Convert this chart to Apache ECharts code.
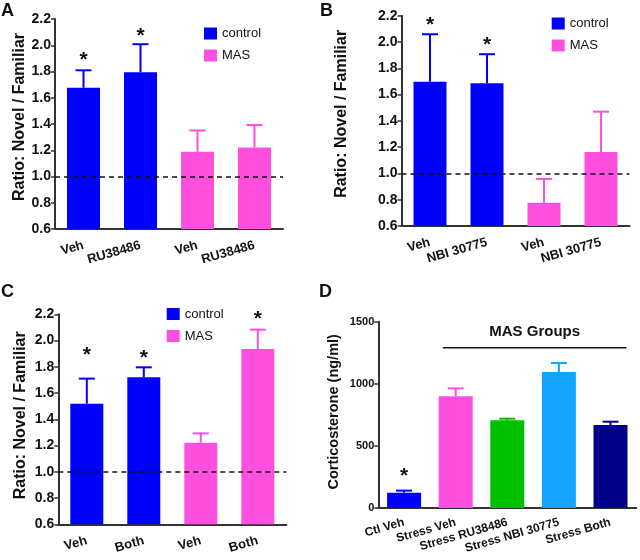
<!DOCTYPE html>
<html><head><meta charset="utf-8">
<script src="https://cdn.jsdelivr.net/npm/echarts@6/dist/echarts.min.js"></script>
<style>html,body{margin:0;padding:0;background:#fff}#c{width:640px;height:560px}</style>
</head><body><div id="c"></div>
<script>
// ---------------- data ----------------
const seriesNames = ['control', 'MAS'];
const ratioName = 'Ratio: Novel / Familiar';
const ratioMin = 0.6, ratioMax = 2.2, ratioStep = 0.2;
const chanceLevel = 1.0;

const catsA = ['Veh', 'RU38486', 'Veh', 'RU38486'];
const groupA = [0, 0, 1, 1];            // 0 = control, 1 = MAS
const meanA = [1.676, 1.794, 1.188, 1.221];
const upperA = [1.809, 2.008, 1.351, 1.392];
const starA = [1.918, 2.101, null, null];

const catsB = ['Veh', 'NBI 30775', 'Veh', 'NBI 30775'];
const groupB = [0, 0, 1, 1];
const meanB = [1.698, 1.686, 0.777, 1.163];
const upperB = [2.059, 1.907, 0.958, 1.470];
const starB = [2.155, 2.003, null, null];

const catsC = ['Veh', 'Both', 'Veh', 'Both'];
const groupC = [0, 0, 1, 1];
const meanC = [1.519, 1.720, 1.222, 1.936];
const upperC = [1.710, 1.796, 1.293, 2.083];
const starC = [1.916, 1.898, null, 2.195];

const cortName = 'Corticosterone (ng/ml)';
const cortMin = 0, cortMax = 1500, cortStep = 500;
const catsD = ['Ctl Veh', 'Stress Veh', 'Stress RU38486', 'Stress NBI 30775', 'Stress Both'];
const meanD = [123, 899, 706, 1095, 668];
const upperD = [140, 963, 719, 1167, 695];
const starD = [292, null, null, null, null];
const masGroupLabel = 'MAS Groups';
const masGroupSpan = [1, 4];            // categories covered by the bracket

// ---------------- style / layout ----------------
const FONT = '"Liberation Sans", Arial, sans-serif';
const TXT = '#111';
const AXIS = '#333';
const groupColors = ['#0000ff', '#ff4fdf'];
const colorsD = ['#0000ff', '#ff4fdf', '#00c000', '#14a3ff', '#000088'];
const masLineY = 1290, masTextY = 1419;

const grids = [
  {left: 55, top: 19, width: 228, height: 210},
  {left: 401.5, top: 15.7, width: 228, height: 210.3},
  {left: 58.3, top: 314.3, width: 228, height: 210},
  {left: 378.3, top: 321.7, width: 258, height: 186.3}
];
const yNameGaps = [27, 51.5, 29.5, 37];
const yNameShift = [14, 14, 8, 6];
const legendPos = [{left: 204, top: 27}, {left: 551.7, top: 17}, {left: 166.7, top: 307.5}];
const letters = [['A', 1, 2], ['B', 320, 2], ['C', 1, 283], ['D', 319, 283]];

function xAxisCfg(i, cats, fs, margin) {
  return {
    type: 'category', gridIndex: i, data: cats,
    axisLine: {lineStyle: {color: AXIS, width: 2}},
    axisTick: {alignWithLabel: true, length: 4, lineStyle: {color: AXIS, width: 1.5}},
    axisLabel: {rotate: 16, interval: 0, margin: margin, color: TXT, fontWeight: 'bold', fontSize: fs, fontFamily: FONT}
  };
}
function yAxisCfg(i, min, max, step, name, gap, shift, fs, nfs, dec) {
  return {
    type: 'value', gridIndex: i, min: min, max: max, interval: step,
    name: name, nameLocation: 'middle', nameGap: gap,
    nameTextStyle: {color: TXT, fontWeight: 'bold', fontSize: nfs, fontFamily: FONT, padding: [0, 0, 0, shift]},
    axisLine: {show: true, lineStyle: {color: AXIS, width: 2}},
    axisTick: {show: true, length: 4, lineStyle: {color: AXIS, width: 1.5}},
    splitLine: {show: false},
    axisLabel: {margin: 4, color: TXT, fontWeight: 'bold', fontSize: fs, fontFamily: FONT,
      formatter: v => dec ? Number(v).toFixed(dec) : String(Math.round(v))}
  };
}
function errSeries(i, mean, upper, colorOf) {
  return {
    type: 'custom', xAxisIndex: i, yAxisIndex: i, z: 3, silent: true,
    data: mean.map((m, k) => [k, m, upper[k]]),
    renderItem: (params, api) => {
      const k = api.value(0);
      const p0 = api.coord([k, api.value(1)]);
      const p1 = api.coord([k, api.value(2)]);
      const c = colorOf(params.dataIndex);
      return {type: 'group', children: [
        {type: 'line', shape: {x1: p0[0], y1: p0[1], x2: p1[0], y2: p1[1]}, style: {stroke: c, lineWidth: 2}},
        {type: 'line', shape: {x1: p1[0] - 8, y1: p1[1], x2: p1[0] + 8, y2: p1[1]}, style: {stroke: c, lineWidth: 2}}
      ]};
    }
  };
}
function starSeries(i, star) {
  return {
    type: 'custom', xAxisIndex: i, yAxisIndex: i, z: 4, silent: true,
    data: star.map((v, k) => v == null ? null : [k, v]).filter(Boolean),
    renderItem: (params, api) => {
      const p = api.coord([api.value(0), api.value(1)]);
      return {type: 'text', x: p[0], y: p[1] + 4, style: {text: '*', fontSize: 21, fontWeight: 'bold', fontFamily: FONT,
        fill: TXT, align: 'center', verticalAlign: 'middle'}};
    }
  };
}

const xAxes = [], yAxes = [], series = [];
const ratioPanels = [[catsA, groupA, meanA, upperA, starA], [catsB, groupB, meanB, upperB, starB], [catsC, groupC, meanC, upperC, starC]];
ratioPanels.forEach((p, i) => {
  const [cats, group, mean, upper, star] = p;
  xAxes.push(xAxisCfg(i, cats, 13, 16));
  yAxes.push(yAxisCfg(i, ratioMin, ratioMax, ratioStep, ratioName, yNameGaps[i], yNameShift[i], 14, 16, 1));
  seriesNames.forEach((nm, g) => {
    const s = {
      type: 'bar', name: nm, xAxisIndex: i, yAxisIndex: i, barWidth: 33, barGap: '-100%',
      itemStyle: {color: groupColors[g]},
      data: mean.map((v, k) => group[k] === g ? v : '-')
    };
    if (g === 0) {
      s.markLine = {silent: true, symbol: ['none', 'none'], label: {show: false}, z: 5,
        lineStyle: {type: [5, 4], color: '#111', width: 1.5},
        data: [{yAxis: chanceLevel}]};
    }
    series.push(s);
  });
  series.push(errSeries(i, mean, upper, k => groupColors[group[k]]));
  series.push(starSeries(i, star));
});

// panel D
xAxes.push(xAxisCfg(3, catsD, 12, 14));
yAxes.push(yAxisCfg(3, cortMin, cortMax, cortStep, cortName, yNameGaps[3], yNameShift[3], 11, 14.5, 0));
series.push({
  type: 'bar', name: 'corticosterone', xAxisIndex: 3, yAxisIndex: 3, barWidth: 34,
  data: meanD.map((v, k) => ({value: v, itemStyle: {color: colorsD[k]}}))
});
series.push(errSeries(3, meanD, upperD, k => colorsD[k]));
series.push(starSeries(3, starD));
series.push({
  type: 'custom', xAxisIndex: 3, yAxisIndex: 3, z: 4, silent: true,
  data: [[masGroupSpan[0], masLineY, masGroupSpan[1], masTextY]],
  renderItem: (params, api) => {
    const bw = api.size([1, 0])[0];
    const a = api.coord([api.value(0), api.value(1)]);
    const b = api.coord([api.value(2), api.value(1)]);
    const t = api.coord([api.value(0), api.value(3)]);
    const x1 = a[0] - 0.25 * bw, x2 = b[0] + 0.31 * bw;
    return {type: 'group', children: [
      {type: 'line', shape: {x1: x1, y1: a[1], x2: x2, y2: a[1]}, style: {stroke: '#111', lineWidth: 1.5}},
      {type: 'text', x: (x1 + x2) / 2, y: t[1], style: {text: masGroupLabel, fontSize: 15, fontWeight: 'bold',
        fontFamily: FONT, fill: TXT, align: 'center', verticalAlign: 'middle'}}
    ]};
  }
});

const option = {
  animation: false,
  backgroundColor: '#fff',
  textStyle: {fontFamily: FONT},
  grid: grids.map(g => Object.assign({containLabel: false}, g)),
  xAxis: xAxes, yAxis: yAxes, series: series,
  legend: legendPos.map(p => ({
    left: p.left, top: p.top, orient: 'vertical', data: seriesNames, icon: 'rect',
    itemWidth: 13, itemHeight: 12, itemGap: 9, padding: 0, selectedMode: false,
    textStyle: {color: TXT, fontSize: 13, fontFamily: FONT, padding: [0, 0, 0, 0]}
  })),
  graphic: letters.map(l => ({type: 'text', left: l[1], top: l[2],
    style: {text: l[0], fontSize: 18, fontWeight: 'bold', fontFamily: FONT, fill: TXT}}))
};
const chart = echarts.init(document.getElementById('c'), null, {renderer: 'canvas'});
chart.setOption(option);
</script></body></html>
